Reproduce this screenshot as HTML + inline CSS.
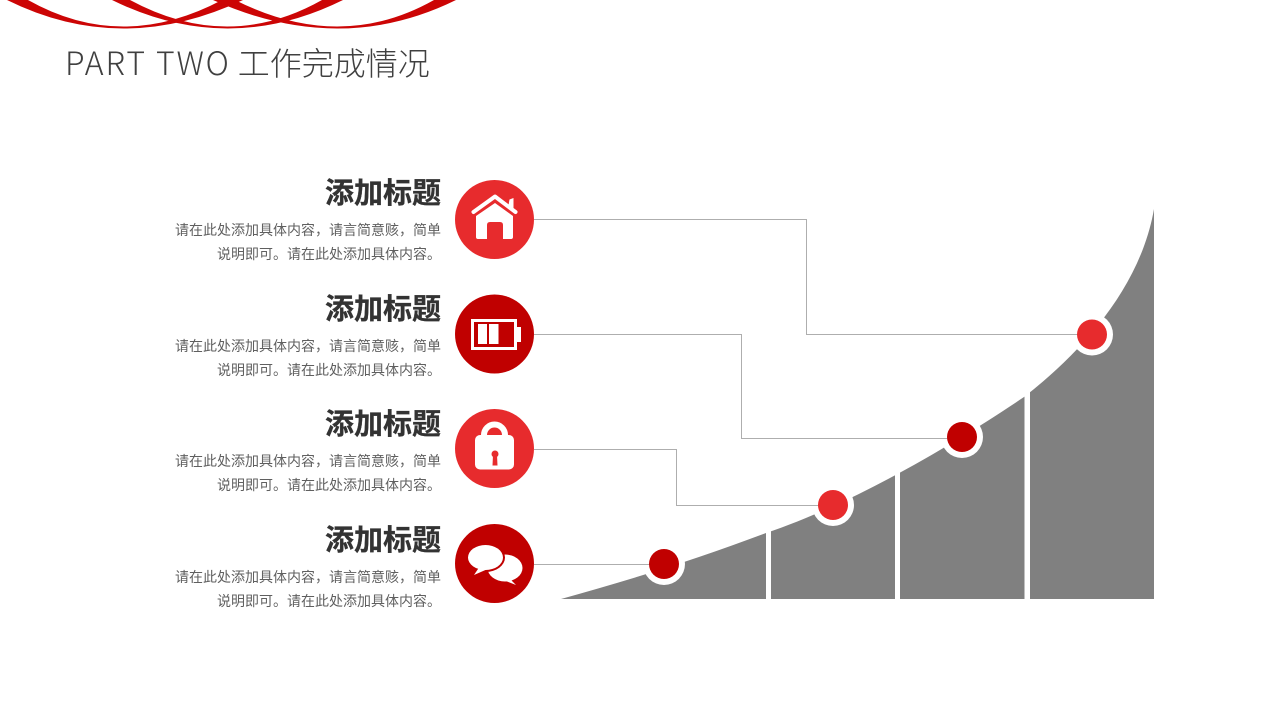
<!DOCTYPE html>
<html lang="zh-CN">
<head>
<meta charset="utf-8">
<title>PART TWO 工作完成情况</title>
<style>
html,body{margin:0;padding:0;background:#fff}
#s{position:relative;width:1280px;height:720px;overflow:hidden;background:#fff;font-family:"Liberation Sans","Noto Sans CJK SC",sans-serif}
svg{position:absolute;left:0;top:0}
.t{position:absolute;white-space:nowrap}
.h{right:839px;font:bold 29px/40px "Noto Sans CJK SC",sans-serif;color:#333;-webkit-text-stroke:.3px #333}
.d{right:839px;font:14px/24px "Noto Sans CJK SC",sans-serif;color:#5f5f5f;text-align:right}
#title{left:65px;top:39px;font:32px/46px "Noto Sans CJK SC",sans-serif;color:#404040;font-weight:300}
#title span{letter-spacing:1.9px}
</style>
</head>
<body>
<div id="s">
<svg width="1280" height="720" viewBox="0 0 1280 720" xmlns="http://www.w3.org/2000/svg">
  <g fill="#cc0505">
    <path d="M7,0 Q122,57 243,0 L222,0 Q122,53 28,0Z"/>
    <path d="M112,0 Q228,57 343,0 L322,0 Q228,53 130,0Z"/>
    <path d="M213,0 Q340,57 456,0 L434,0 Q340,53 235,0Z"/>
  </g>
  <path fill="#808080" d="M561,599 C630,580 700,558 766,533 C850,505 950,447 1024,397 C1078,355 1140,290 1154,209 V599Z"/>
  <g fill="#fff">
    <rect x="766" y="525" width="5" height="76"/>
    <rect x="895" y="465" width="5" height="136"/>
    <rect x="1024.500" y="385" width="5.500" height="216"/>
  </g>
  <g fill="#fff">
    <circle cx="664" cy="564" r="21"/>
    <circle cx="833" cy="505" r="21"/>
    <circle cx="962" cy="437" r="21"/>
    <circle cx="1092" cy="334.500" r="21"/>
  </g>
  <g fill="none" stroke="#aeaeae" stroke-width="1">
    <path d="M534,219.500H806.500V334.500H1092"/>
    <path d="M534,334.500H741.500V438.500H962"/>
    <path d="M534,449.500H676.500V505.500H833"/>
    <path d="M534,564.500H664"/>
  </g>
  <circle cx="664" cy="564" r="15" fill="#c00000"/>
  <circle cx="833" cy="505" r="15" fill="#e72b2d"/>
  <circle cx="962" cy="437" r="15" fill="#c00000"/>
  <circle cx="1092" cy="334.500" r="15" fill="#e72b2d"/>

  <circle cx="494.500" cy="219.500" r="39.500" fill="#e72b2d"/>
  <circle cx="494.500" cy="334" r="39.500" fill="#c00000"/>
  <circle cx="494.500" cy="448.500" r="39.500" fill="#e72b2d"/>
  <circle cx="494.500" cy="563.500" r="39.500" fill="#c00000"/>

  <!-- house -->
  <path d="M473.500,212 L495,196.500 L515.500,212" fill="none" stroke="#fff" stroke-width="4" stroke-linecap="round" stroke-linejoin="round"/>
  <path d="M508.500,205 L509.500,199.500 L513.500,198 L513.500,209Z" fill="#fff"/>
  <path d="M495,203 L513,216 V237 Q513,239 511,239 H503 V225 Q503,222 500,222 H490 Q487,222 487,225 V239 H478 Q476,239 476,237 V216Z" fill="#fff"/>

  <!-- battery -->
  <rect x="472.500" y="320.500" width="43" height="28" fill="none" stroke="#fff" stroke-width="3"/>
  <rect x="517" y="327" width="4" height="15" fill="#fff"/>
  <rect x="478" y="324" width="9" height="20" fill="#fff"/>
  <rect x="489" y="324" width="9.500" height="20" fill="#fff"/>

  <!-- lock -->
  <path d="M484,437 V435 A10.500,10.500 0 0 1 505,435 V437" fill="none" stroke="#fff" stroke-width="6"/>
  <rect x="475" y="435" width="39" height="34.500" rx="5" fill="#fff"/>
  <circle cx="495" cy="454" r="3.500" fill="#e72b2d"/>
  <path d="M493,455 H497 L497.500,465.500 H492.500Z" fill="#e72b2d"/>

  <!-- chat -->
  <ellipse cx="505" cy="568" rx="17.500" ry="13.500" fill="#fff"/>
  <path d="M508,577 L516,585 L503,580Z" fill="#fff"/>
  <ellipse cx="485.500" cy="557.500" rx="19.500" ry="14.500" fill="#c00000"/>
  <ellipse cx="485.500" cy="557.500" rx="17.500" ry="12.500" fill="#fff"/>
  <path d="M480,566 L474,575 L490,568Z" fill="#fff"/>
</svg>

<div class="t" id="title"><span>PART TWO</span> 工作完成情况</div>

<div class="t h" style="top:171px">添加标题</div>
<div class="t d" style="top:218px">请在此处添加具体内容，请言简意赅，简单<br>说明即可。请在此处添加具体内容。</div>
<div class="t h" style="top:287px">添加标题</div>
<div class="t d" style="top:334px">请在此处添加具体内容，请言简意赅，简单<br>说明即可。请在此处添加具体内容。</div>
<div class="t h" style="top:402px">添加标题</div>
<div class="t d" style="top:449px">请在此处添加具体内容，请言简意赅，简单<br>说明即可。请在此处添加具体内容。</div>
<div class="t h" style="top:518px">添加标题</div>
<div class="t d" style="top:565px">请在此处添加具体内容，请言简意赅，简单<br>说明即可。请在此处添加具体内容。</div>
</div>
</body>
</html>
